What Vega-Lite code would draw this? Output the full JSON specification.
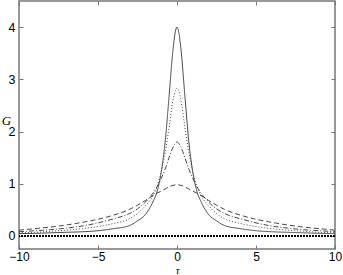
{
"$schema": "https://vega.github.io/schema/vega-lite/v6.json",
"width": 316, "height": 248,
"autosize": {"type": "none"},
"padding": {"left": 19, "top": 1, "right": 8, "bottom": 26},
"background": "white",
"config": {
 "view": {"stroke": "#777", "strokeWidth": 1.5},
 "axis": {"domain": false, "grid": false, "tickColor": "#777", "tickSize": -4, "tickWidth": 1,
  "labelFont": "Liberation Sans", "labelFontSize": 12.5, "labelColor": "#000",
  "titleFont": "Liberation Serif", "titleFontStyle": "italic", "titleFontWeight": "normal", "titleFontSize": 13, "titleColor": "#000"}
},
"data": {"values": [
{"s":"A","t":-10,"g":0.045},{"s":"A","t":-9,"g":0.05},{"s":"A","t":-8,"g":0.06},{"s":"A","t":-7,"g":0.07},{"s":"A","t":-6,"g":0.08},{"s":"A","t":-5,"g":0.10},{"s":"A","t":-4,"g":0.14},{"s":"A","t":-3,"g":0.20},{"s":"A","t":-2.5,"g":0.29},{"s":"A","t":-2,"g":0.41},{"s":"A","t":-1.5,"g":0.67},{"s":"A","t":-1.25,"g":0.86},{"s":"A","t":-1,"g":1.22},{"s":"A","t":-0.75,"g":1.80},{"s":"A","t":-0.5,"g":2.68},{"s":"A","t":-0.25,"g":3.58},{"s":"A","t":-0.1,"g":3.92},{"s":"A","t":0,"g":4.0},{"s":"A","t":0.1,"g":3.92},{"s":"A","t":0.25,"g":3.58},{"s":"A","t":0.5,"g":2.68},{"s":"A","t":0.75,"g":1.80},{"s":"A","t":1,"g":1.22},{"s":"A","t":1.25,"g":0.86},{"s":"A","t":1.5,"g":0.67},{"s":"A","t":2,"g":0.41},{"s":"A","t":2.5,"g":0.29},{"s":"A","t":3,"g":0.20},{"s":"A","t":4,"g":0.14},{"s":"A","t":5,"g":0.10},{"s":"A","t":6,"g":0.08},{"s":"A","t":7,"g":0.07},{"s":"A","t":8,"g":0.06},{"s":"A","t":9,"g":0.05},{"s":"A","t":10,"g":0.045},
{"s":"B","t":-10,"g":0.06},{"s":"B","t":-9,"g":0.07},{"s":"B","t":-8,"g":0.09},{"s":"B","t":-7,"g":0.11},{"s":"B","t":-6,"g":0.14},{"s":"B","t":-5,"g":0.18},{"s":"B","t":-4,"g":0.24},{"s":"B","t":-3,"g":0.33},{"s":"B","t":-2.5,"g":0.43},{"s":"B","t":-2,"g":0.58},{"s":"B","t":-1.5,"g":0.78},{"s":"B","t":-1.25,"g":0.95},{"s":"B","t":-1,"g":1.23},{"s":"B","t":-0.75,"g":1.60},{"s":"B","t":-0.5,"g":2.08},{"s":"B","t":-0.25,"g":2.60},{"s":"B","t":-0.1,"g":2.79},{"s":"B","t":0,"g":2.83},{"s":"B","t":0.1,"g":2.79},{"s":"B","t":0.25,"g":2.60},{"s":"B","t":0.5,"g":2.08},{"s":"B","t":0.75,"g":1.60},{"s":"B","t":1,"g":1.23},{"s":"B","t":1.25,"g":0.95},{"s":"B","t":1.5,"g":0.78},{"s":"B","t":2,"g":0.58},{"s":"B","t":2.5,"g":0.43},{"s":"B","t":3,"g":0.33},{"s":"B","t":4,"g":0.24},{"s":"B","t":5,"g":0.18},{"s":"B","t":6,"g":0.14},{"s":"B","t":7,"g":0.11},{"s":"B","t":8,"g":0.09},{"s":"B","t":9,"g":0.07},{"s":"B","t":10,"g":0.06},
{"s":"C","t":-10,"g":0.08},{"s":"C","t":-9,"g":0.10},{"s":"C","t":-8,"g":0.12},{"s":"C","t":-7,"g":0.15},{"s":"C","t":-6,"g":0.19},{"s":"C","t":-5,"g":0.25},{"s":"C","t":-4,"g":0.33},{"s":"C","t":-3,"g":0.43},{"s":"C","t":-2.5,"g":0.52},{"s":"C","t":-2,"g":0.65},{"s":"C","t":-1.5,"g":0.83},{"s":"C","t":-1.25,"g":0.95},{"s":"C","t":-1,"g":1.10},{"s":"C","t":-0.75,"g":1.28},{"s":"C","t":-0.5,"g":1.50},{"s":"C","t":-0.25,"g":1.70},{"s":"C","t":0,"g":1.80},{"s":"C","t":0.25,"g":1.70},{"s":"C","t":0.5,"g":1.50},{"s":"C","t":0.75,"g":1.28},{"s":"C","t":1,"g":1.10},{"s":"C","t":1.25,"g":0.95},{"s":"C","t":1.5,"g":0.83},{"s":"C","t":2,"g":0.65},{"s":"C","t":2.5,"g":0.52},{"s":"C","t":3,"g":0.43},{"s":"C","t":4,"g":0.33},{"s":"C","t":5,"g":0.25},{"s":"C","t":6,"g":0.19},{"s":"C","t":7,"g":0.15},{"s":"C","t":8,"g":0.12},{"s":"C","t":9,"g":0.10},{"s":"C","t":10,"g":0.08},
{"s":"D","t":-10,"g":0.11},{"s":"D","t":-9,"g":0.14},{"s":"D","t":-8,"g":0.17},{"s":"D","t":-7,"g":0.21},{"s":"D","t":-6,"g":0.26},{"s":"D","t":-5,"g":0.32},{"s":"D","t":-4,"g":0.40},{"s":"D","t":-3,"g":0.51},{"s":"D","t":-2.5,"g":0.59},{"s":"D","t":-2,"g":0.68},{"s":"D","t":-1.5,"g":0.78},{"s":"D","t":-1.25,"g":0.82},{"s":"D","t":-1,"g":0.86},{"s":"D","t":-0.75,"g":0.90},{"s":"D","t":-0.5,"g":0.94},{"s":"D","t":-0.25,"g":0.97},{"s":"D","t":0,"g":0.98},{"s":"D","t":0.25,"g":0.97},{"s":"D","t":0.5,"g":0.94},{"s":"D","t":0.75,"g":0.90},{"s":"D","t":1,"g":0.86},{"s":"D","t":1.25,"g":0.82},{"s":"D","t":1.5,"g":0.78},{"s":"D","t":2,"g":0.68},{"s":"D","t":2.5,"g":0.59},{"s":"D","t":3,"g":0.51},{"s":"D","t":4,"g":0.40},{"s":"D","t":5,"g":0.32},{"s":"D","t":6,"g":0.26},{"s":"D","t":7,"g":0.21},{"s":"D","t":8,"g":0.17},{"s":"D","t":9,"g":0.14},{"s":"D","t":10,"g":0.11}
]},
"layer": [
 {
  "mark": {"type": "line", "interpolate": "monotone", "color": "#333", "strokeWidth": 0.9, "clip": true},
  "encoding": {
   "x": {"field": "t", "type": "quantitative", "scale": {"domain": [-10, 10], "nice": false},
     "axis": {"orient": "bottom", "values": [-10, -5, 0, 5, 10], "title": "τ", "labelPadding": 6, "labelFontSize": 12, "labelFlush": false, "titleY": 24.5, "titleFontSize": 10.5, "titleBaseline": "alphabetic"}},
   "y": {"field": "g", "type": "quantitative", "scale": {"domain": [-0.25, 4.5], "nice": false, "zero": false},
     "axis": {"orient": "left", "values": [0, 1, 2, 3, 4], "title": "G", "labelPadding": 8, "titleAngle": 0, "titleX": -13, "titleY": 119, "titleAlign": "center", "titleBaseline": "middle"}},
   "detail": {"field": "s"},
   "strokeDash": {"field": "s", "type": "nominal", "legend": null,
     "scale": {"domain": ["A", "B", "C", "D"], "range": [[1, 0], [1, 2], [5, 2, 1, 2], [5, 3]]}}
  }
 },
 {
  "mark": {"type": "rule", "color": "#000", "strokeWidth": 2, "strokeDash": [1.2, 1.8]},
  "encoding": {"y": {"datum": 0, "type": "quantitative", "axis": null}}
 },
 {
  "mark": {"type": "point", "opacity": 0},
  "encoding": {
   "x": {"field": "t", "type": "quantitative", "axis": {"orient": "top", "values": [-10, -5, 0, 5, 10], "labels": false, "title": null}},
   "y": {"field": "g", "type": "quantitative", "axis": {"orient": "right", "values": [0, 1, 2, 3, 4], "labels": false, "title": null}}
  }
 }
],
"resolve": {"axis": {"x": "independent", "y": "independent"}}
}
